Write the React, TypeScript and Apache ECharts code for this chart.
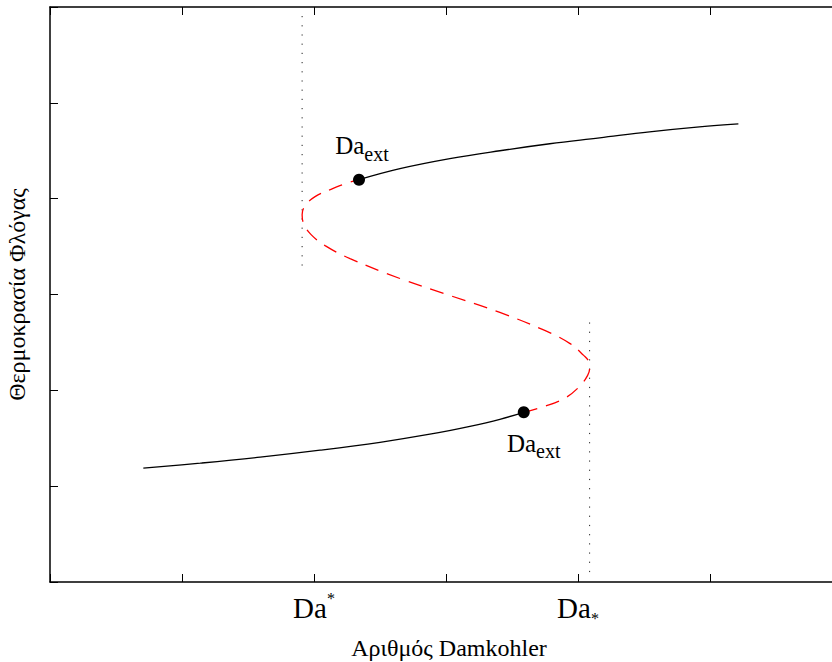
import React, { useEffect, useRef } from "react";
import * as echarts from "echarts";

// Axis range / ticks (data units)
const xRange = [0, 6];
const yRange = [0, 6];
const tickInterval = 1;
// Tick labels on the x axis (value -> label kind)
const xTickLabelKinds: Record<number, string> = { 2: "sup", 4: "sub" };

// Lower (stable, weak-burning) branch
const lowerBranch: number[][] = [
  [0.707, 1.188], [1.138, 1.24], [1.592, 1.302], [2.046, 1.375], [2.5, 1.458],
  [2.878, 1.542], [3.181, 1.625], [3.408, 1.698], [3.589, 1.771],
];
// Middle (unstable) branch
const middleBranch: number[][] = [
  [3.589, 1.771], [3.748, 1.833], [3.899, 1.917], [4.013, 2.042], [4.073, 2.156],
  [4.088, 2.229], [4.081, 2.302], [4.043, 2.365], [3.937, 2.49], [3.748, 2.625],
  [3.408, 2.8125], [3.029, 2.99], [2.651, 3.167], [2.273, 3.375], [2.084, 3.51],
  [1.978, 3.625], [1.925, 3.729], [1.91, 3.833], [1.933, 3.927], [2.008, 4.021],
  [2.122, 4.094], [2.235, 4.156], [2.341, 4.198],
];
// Upper (stable, strongly-burning) branch
const upperBranch: number[][] = [
  [2.341, 4.198], [2.651, 4.3125], [3.029, 4.417], [3.408, 4.5], [3.786, 4.573],
  [4.164, 4.635], [4.542, 4.698], [4.92, 4.75], [5.215, 4.781],
];
// Extinction points
const extPoints: number[][] = [[2.341, 4.198], [3.589, 1.771]];
// Dotted vertical guides at the turning points
const leftGuide: number[][] = [[1.91, 5.906], [1.91, 3.25]];
const rightGuide: number[][] = [[4.088, 2.708], [4.088, 0.07]];

const FONT = "Liberation Serif, Times New Roman, serif";

const mkAxisLine = () => ({ show: true, onZero: false, lineStyle: { color: "#000", width: 1.5 } });
const mkAxisTick = () => ({ show: true, inside: true, length: 8, lineStyle: { color: "#000", width: 1 } });

export default function App() {
  const ref = useRef<HTMLDivElement>(null);
  useEffect(() => {
    if (!ref.current) return;
    const chart = echarts.init(ref.current, undefined, { renderer: "svg" });
    const richLabel = {
      d: { fontSize: 29, fontFamily: FONT, color: "#000", lineHeight: 36 },
      p: { fontSize: 16, fontFamily: FONT, color: "#000", lineHeight: 27, verticalAlign: "top" },
      b: { fontSize: 16, fontFamily: FONT, color: "#000", lineHeight: 16, verticalAlign: "bottom" },
    };
    chart.setOption({
      animation: false,
      backgroundColor: "#fff",
      grid: {
        left: 50,
        top: 7,
        width: 792,
        height: 575,
        containLabel: false,
        outerBoundsMode: "none",
      },
      xAxis: [
        {
          type: "value",
          min: xRange[0],
          max: xRange[1],
          interval: tickInterval,
          position: "bottom",
          axisLine: mkAxisLine(),
          axisTick: mkAxisTick(),
          splitLine: { show: false },
          axisLabel: {
            show: true,
            margin: 8,
            formatter: (v: number) =>
              xTickLabelKinds[v] === "sup" ? "{d|Da}{p|*}" : xTickLabelKinds[v] === "sub" ? "{d|Da}{b|*}" : "",
            rich: richLabel,
          },
          name: "Αριθμός Damkohler",
          nameLocation: "middle",
          nameGap: 54,
          nameTextStyle: { fontSize: 24, fontFamily: FONT, color: "#000", padding: [0, 0, 0, 6] },
        },
        {
          type: "value",
          min: xRange[0],
          max: xRange[1],
          interval: tickInterval,
          position: "top",
          axisLine: mkAxisLine(),
          axisTick: mkAxisTick(),
          splitLine: { show: false },
          axisLabel: { show: false },
        },
      ],
      yAxis: [
        {
          type: "value",
          min: yRange[0],
          max: yRange[1],
          interval: tickInterval,
          position: "left",
          axisLine: mkAxisLine(),
          axisTick: mkAxisTick(),
          splitLine: { show: false },
          axisLabel: { show: false },
          name: "Θερμοκρασία Φλόγας",
          nameLocation: "middle",
          nameGap: 21,
          nameTextStyle: { fontSize: 24, fontFamily: FONT, color: "#000" },
        },
        {
          type: "value",
          min: yRange[0],
          max: yRange[1],
          interval: tickInterval,
          position: "right",
          axisLine: mkAxisLine(),
          axisTick: mkAxisTick(),
          splitLine: { show: false },
          axisLabel: { show: false },
        },
      ],
      series: [
        {
          type: "line",
          data: leftGuide,
          symbol: "none",
          lineStyle: { color: "#222", width: 1, type: [1.2, 8] },
          silent: true,
        },
        {
          type: "line",
          data: rightGuide,
          symbol: "none",
          lineStyle: { color: "#222", width: 1, type: [1.2, 8] },
          silent: true,
        },
        {
          type: "line",
          data: lowerBranch,
          symbol: "none",
          smooth: 0.4,
          lineStyle: { color: "#000", width: 1.3 },
        },
        {
          type: "line",
          data: middleBranch,
          symbol: "none",
          smooth: 0.4,
          lineStyle: { color: "#ff0000", width: 1.3, type: [14, 9] },
        },
        {
          type: "line",
          data: upperBranch,
          symbol: "none",
          smooth: 0.4,
          lineStyle: { color: "#000", width: 1.3 },
        },
        {
          type: "scatter",
          symbol: "circle",
          symbolSize: 12,
          itemStyle: { color: "#000", opacity: 1 },
          z: 5,
          data: [
            { value: extPoints[0], label: { position: "top", distance: 10, offset: [3, 0] } },
            { value: extPoints[1], label: { position: "bottom", distance: 7, offset: [10, 0] } },
          ],
          label: {
            show: true,
            color: "#000",
            formatter: "{d|Da}{s|ext}",
            rich: {
              d: { fontSize: 25, fontFamily: FONT, color: "#000", lineHeight: 36 },
              s: { fontSize: 20, fontFamily: FONT, color: "#000", lineHeight: 20, verticalAlign: "bottom" },
            },
          },
        },
      ],
    });
    return () => chart.dispose();
  }, []);
  return (
    <div
      ref={ref}
      style={{ position: "absolute", left: 0, top: 0, width: 832, height: 662 }}
    />
  );
}
